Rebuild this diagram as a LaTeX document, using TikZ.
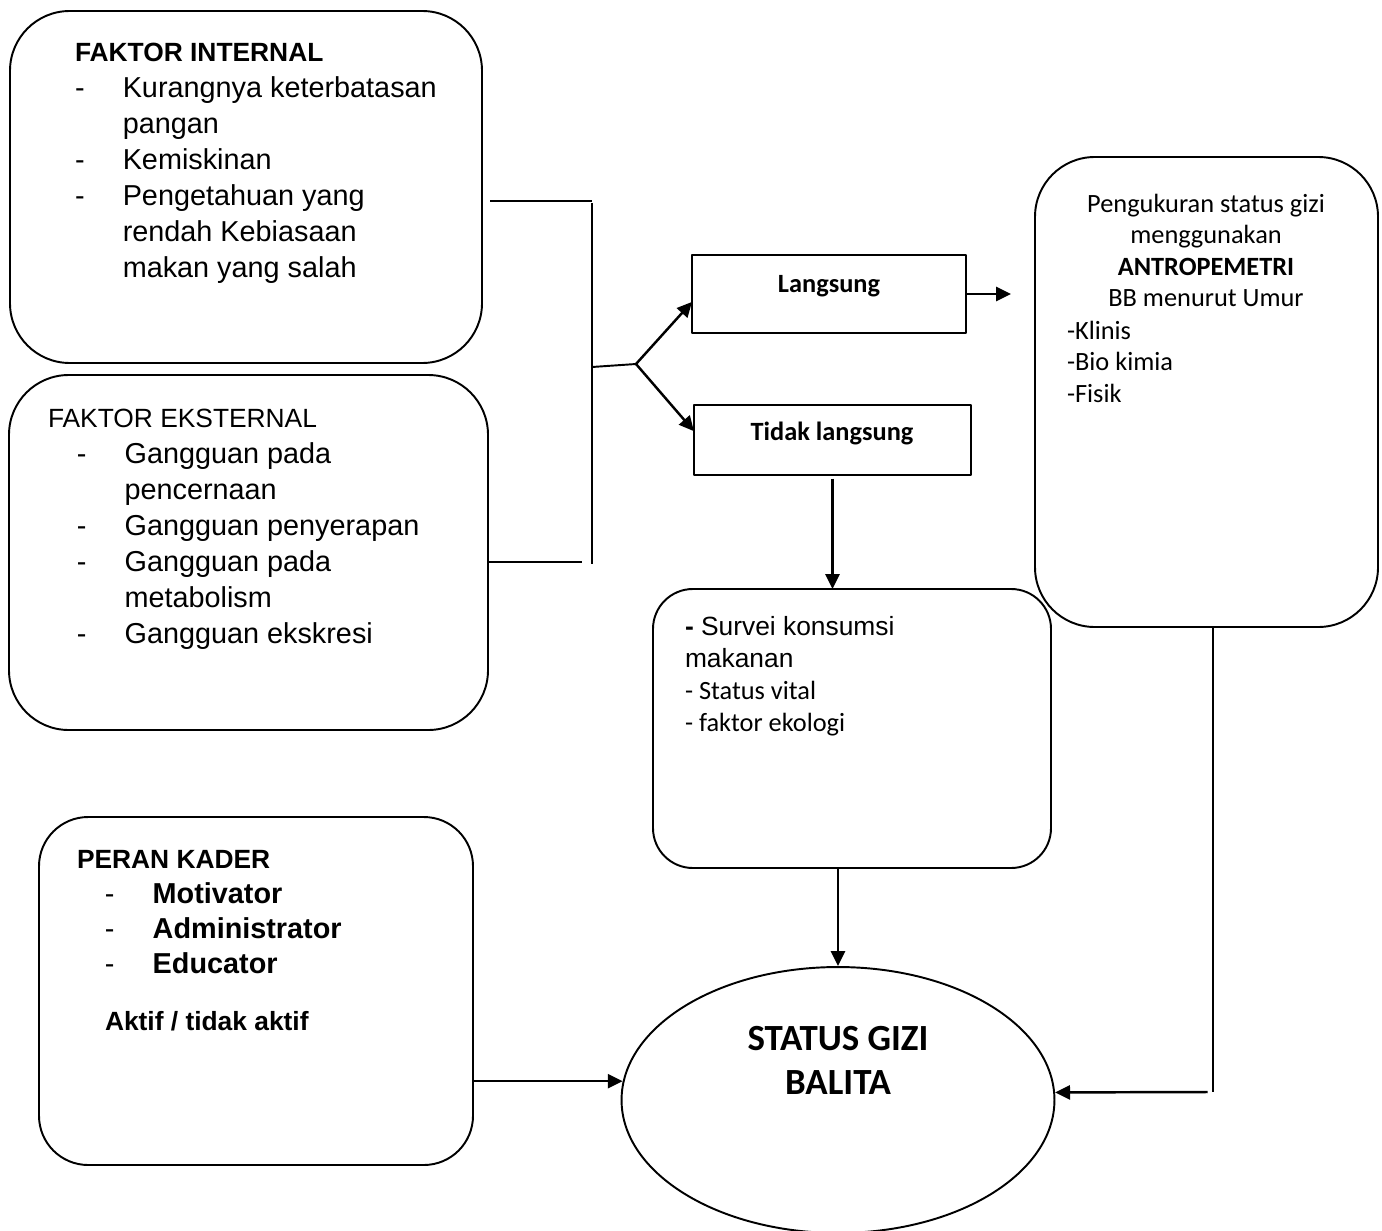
\documentclass[tikz,border=0pt]{standalone}
\usepackage{fontspec}
\setmainfont{Liberation Sans}
\newfontfamily\carlito{Carlito}
\usetikzlibrary{arrows.meta,shapes.geometric,fit}

% ukuran huruf
\newcommand\fsA{\fontsize{15}{18}\selectfont}
\newcommand\fsB{\fontsize{16.4}{20}\selectfont}
% baris-baris teks (rata kiri / tengah)
\newcommand\linesL[2]{\vtop{\baselineskip=#1\relax\lineskiplimit=-\maxdimen\let\\=\cr\halign{##\hfil\cr#2\crcr}}}
\newcommand\linesC[2]{\vtop{\baselineskip=#1\relax\lineskiplimit=-\maxdimen\let\\=\cr\halign{\hfil##\hfil\cr#2\crcr}}}
\newcommand\dsh{\makebox[27.2pt][l]{-}}
\newcommand\ind{\kern27.2pt}

\begin{document}
\begin{tikzpicture}[x=0.02cm, y=-0.02cm, line join=round,
    rbox/.style={draw, line width=1.1pt, rounded corners=#1, inner sep=0pt, outer sep=0pt},
    rbox/.default=34pt,
    sbox/.style={draw, line width=1.4pt, inner sep=0pt, outer sep=0pt},
    txt/.style={anchor=base west, inner sep=0pt, outer sep=0pt},
    ctxt/.style={anchor=base, inner sep=0pt, outer sep=0pt},
    link/.style={line width=1.1pt},
    arr/.style={line width=1.4pt, -{Triangle[length=8.5pt, width=8pt]}}]
    \useasboundingbox (0,0) rectangle (1382,1230);
    % kotak kiri
    \node[rbox, fit={(10,11) (482,363)}] (intern) {};
    \node[rbox, fit={(9,375) (488,730)}] (extern) {};
    \node[rbox=28pt, fit={(39,817) (473,1165)}] (peran) {};
    % kotak tengah dan kanan
    \node[sbox, fit={(692,255) (966,333)}] (lang) {};
    \node[sbox, fit={(694,405) (971,475)}] (tidak) {};
    \node[rbox=22.7pt, fit={(653,589) (1051,868)}] (survei) {};
    \node[rbox, fit={(1035,157) (1378,627)}] (ukur) {};
    \node[draw, ellipse, line width=1.1pt, inner sep=0pt, minimum width=8.66cm, minimum height=5.32cm] (gizi) at (838,1100) {};
    % teks
    \node[txt, font=\fsB] (internT) at (75,62) {\linesL{20.4pt}{{\fsA\bfseries FAKTOR INTERNAL}\\
        \dsh Kurangnya keterbatasan\\ \ind pangan\\ \dsh Kemiskinan\\
        \dsh Pengetahuan yang\\ \ind rendah Kebiasaan\\ \ind makan yang salah}};
    \node[txt, font=\fsB] (externT) at (48,427) {\linesL{20.5pt}{{\fsA FAKTOR EKSTERNAL}\\
        \kern16.4pt\dsh Gangguan pada\\ \kern16.4pt\ind pencernaan\\
        \kern16.4pt\dsh Gangguan penyerapan\\ \kern16.4pt\dsh Gangguan pada\\
        \kern16.4pt\ind metabolism\\ \kern16.4pt\dsh Gangguan ekskresi}};
    \node[txt, font=\fsB] (peranT) at (77,868) {\linesL{20.1pt}{{\fsA\bfseries PERAN KADER}\\
        \kern15.9pt\dsh\textbf{Motivator}\\ \kern15.9pt\dsh\textbf{Administrator}\\
        \kern15.9pt\dsh\textbf{Educator}}};
    \node[txt, font=\fsA\bfseries] (aktifT) at (105,1030) {Aktif / tidak aktif};
    \node[ctxt, font=\fsA\carlito\bfseries] (langT) at (829,292) {Langsung};
    \node[ctxt, font=\fsA\carlito\bfseries] (tidakT) at (832,440) {Tidak langsung};
    \node[txt, font=\fsA] (surveiT) at (685,635) {\linesL{18.3pt}{\textbf{-} Survei konsumsi\\ makanan\\
        {\carlito - Status vital}\\ {\carlito - faktor ekologi}}};
    \node[ctxt, font=\fsA\carlito] (ukurT) at (1206,212) {\linesC{18pt}{Pengukuran status gizi\\
        menggunakan\\ \textbf{ANTROPEMETRI}\\ BB menurut Umur}};
    \node[txt, font=\fsA\carlito] (ukurL) at (1067,339) {\linesL{18pt}{-Klinis\\ -Bio kimia\\ -Fisik}};
    \node[ctxt, font=\fontsize{21}{25.5}\selectfont\carlito\bfseries] (giziT) at (838,1050) {\linesC{25.5pt}{STATUS GIZI\\ BALITA}};
    % kurung penghubung
    \coordinate (brTopL) at (490,201);
    \coordinate (brTop) at (592,203);
    \coordinate (brBot) at (592,564);
    \coordinate (brBotR) at (582,562);
    \coordinate (brMid) at (592,367);
    \coordinate (fork) at (636,364);
    \coordinate (langTo) at (1011,294);
    \coordinate (ukurDn) at (1213,1092);
    \draw[link] (brTopL) -- (brTop |- brTopL);
    \draw[link] (brTop) -- (brBot);
    \draw[link] (extern.east |- brBotR) -- (brBotR);
    \draw[link] (brMid) -- (fork);
    % panah
    \draw[arr] (fork) -- ([yshift=-4.5pt]lang.west);
    \draw[arr] (fork) -- ([yshift=5pt]tidak.west);
    \draw[arr] (lang.east) -- (langTo);
    \draw[arr] ([yshift=-2pt]tidak.south) -- (tidak.south |- survei.north);
    \draw[arr] (gizi.north |- survei.south) -- (gizi.north);
    \draw[arr] (peran.east |- gizi.175) -- (gizi.175);
    \draw[link] (ukur.south -| ukurDn) -- (ukurDn);
    \draw[arr] ([xshift=-3pt]ukurDn) -- (gizi.2);
\end{tikzpicture}
\end{document}
